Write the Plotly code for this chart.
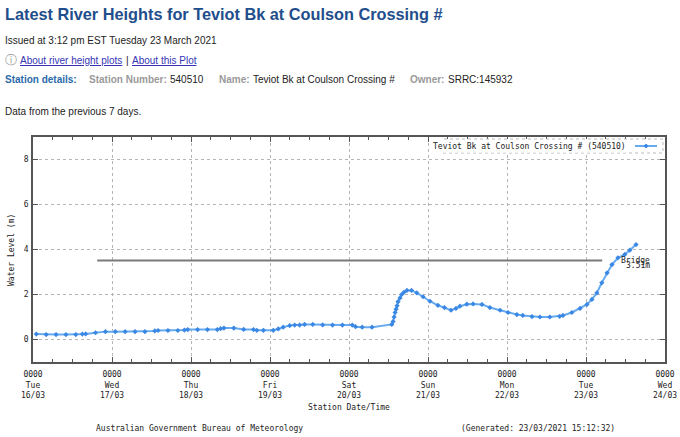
import plotly.graph_objects as go

# river height readings (station local time)
times = [
    "2021-03-16 01:00", "2021-03-16 04:00", "2021-03-16 07:00", "2021-03-16 10:00",
    "2021-03-16 13:00", "2021-03-16 15:00", "2021-03-16 16:00", "2021-03-16 19:00",
    "2021-03-16 22:00", "2021-03-17 01:00", "2021-03-17 04:00", "2021-03-17 07:00",
    "2021-03-17 10:00", "2021-03-17 13:00", "2021-03-17 14:00", "2021-03-17 17:00",
    "2021-03-17 20:00", "2021-03-17 22:00", "2021-03-17 23:00", "2021-03-18 02:00",
    "2021-03-18 05:00", "2021-03-18 08:00", "2021-03-18 09:00", "2021-03-18 10:00",
    "2021-03-18 13:00", "2021-03-18 16:00", "2021-03-18 19:00", "2021-03-18 20:00",
    "2021-03-18 22:00", "2021-03-19 01:00", "2021-03-19 02:30", "2021-03-19 04:00",
    "2021-03-19 06:00", "2021-03-19 07:30", "2021-03-19 09:00", "2021-03-19 10:30",
    "2021-03-19 13:00", "2021-03-19 16:00", "2021-03-19 19:00", "2021-03-19 22:00",
    "2021-03-20 01:00", "2021-03-20 02:00", "2021-03-20 04:00", "2021-03-20 07:00",
    "2021-03-20 13:00", "2021-03-20 13:24", "2021-03-20 13:42", "2021-03-20 14:00",
    "2021-03-20 14:18", "2021-03-20 14:36", "2021-03-20 14:54", "2021-03-20 15:30",
    "2021-03-20 16:00", "2021-03-20 16:42", "2021-03-20 17:36", "2021-03-20 19:00",
    "2021-03-20 20:36", "2021-03-20 22:30", "2021-03-21 00:36", "2021-03-21 03:00",
    "2021-03-21 05:00", "2021-03-21 07:00", "2021-03-21 08:30", "2021-03-21 09:42",
    "2021-03-21 11:48", "2021-03-21 13:42", "2021-03-21 16:24", "2021-03-21 18:48",
    "2021-03-21 21:54", "2021-03-22 00:18", "2021-03-22 03:00", "2021-03-22 04:48",
    "2021-03-22 07:36", "2021-03-22 10:00", "2021-03-22 13:00", "2021-03-22 16:00",
    "2021-03-22 17:00", "2021-03-22 19:42", "2021-03-22 22:12", "2021-03-23 00:18",
    "2021-03-23 01:48", "2021-03-23 03:18", "2021-03-23 04:48", "2021-03-23 06:24",
    "2021-03-23 07:54", "2021-03-23 09:42", "2021-03-23 11:48", "2021-03-23 13:18",
    "2021-03-23 15:12",
]
levels = [
    0.24, 0.22, 0.22, 0.22, 0.22, 0.24, 0.25, 0.30, 0.35, 0.35, 0.35, 0.35,
    0.35, 0.38, 0.40, 0.40, 0.40, 0.42, 0.44, 0.44, 0.44, 0.44, 0.48, 0.51,
    0.51, 0.45, 0.44, 0.41, 0.41, 0.41, 0.47, 0.55, 0.62, 0.64, 0.64, 0.67,
    0.67, 0.65, 0.64, 0.64, 0.64, 0.57, 0.55, 0.55, 0.67, 0.80, 1.00, 1.20,
    1.35, 1.50, 1.68, 1.85, 2.00, 2.10, 2.18, 2.18, 2.07, 1.90, 1.70, 1.52,
    1.42, 1.30, 1.38, 1.48, 1.57, 1.58, 1.56, 1.42, 1.30, 1.20, 1.11, 1.07,
    1.02, 1.00, 1.00, 1.03, 1.07, 1.20, 1.38, 1.56, 1.78, 2.07, 2.52, 2.96,
    3.33, 3.63, 3.78, 3.97, 4.22,
]

# bridge level line
bridge_times = ["2021-03-16 19:30", "2021-03-23 04:55"]
bridge_level = [3.51, 3.51]

day_ticks = ["2021-03-%02d" % d for d in range(16, 25)]
day_names = ["Tue", "Wed", "Thu", "Fri", "Sat", "Sun", "Mon", "Tue", "Wed"]
day_dates = ["16/03", "17/03", "18/03", "19/03", "20/03", "21/03", "22/03", "23/03", "24/03"]
y_ticks = [0, 2, 4, 6, 8]

MONO = "DejaVu Sans Mono"
SANS = "Liberation Sans"

# plot area in pixels: x 33..665, y 137..362
def px_x(p):
    return (p - 33) / 632.0

def px_y(p):
    return (362 - p) / 225.0

fig = go.Figure()

fig.add_trace(go.Scatter(
    x=bridge_times, y=bridge_level, mode="lines",
    line=dict(color="#7a7a7a", width=2), showlegend=False, hoverinfo="skip"
))

fig.add_trace(go.Scatter(
    x=times, y=levels, mode="lines+markers",
    line=dict(color="#66aaf0", width=2),
    marker=dict(symbol="diamond", size=4, color="#3b88e4"),
    name="Teviot Bk at Coulson Crossing # (540510)", showlegend=False
))

ann = []

def txt(x, y, s, size=10, color="#222", font=SANS, anchor="left", bold=False, **kw):
    if bold:
        s = "<b>" + s + "</b>"
    ann.append(dict(x=px_x(x), y=px_y(y), xref="paper", yref="paper", text=s,
                    showarrow=False, xanchor=anchor, yanchor="middle",
                    font=dict(family=font, size=size, color=color), **kw))

# page header
txt(3, 14, "Latest River Heights for Teviot Bk at Coulson Crossing #", size=16.3, color="#1f4e8c", bold=True)
txt(3, 40, "Issued at 3:12 pm EST Tuesday 23 March 2021", size=10)
txt(3, 60, "ⓘ", size=12, color="#999", font="DejaVu Sans")
txt(18, 60, "<u>About river height plots</u>", size=10, color="#3535b5")
txt(124, 60, "|", size=10)
txt(130, 60, "<u>About this Plot</u>", size=10, color="#3535b5")
txt(3, 80, "Station details:", size=10, color="#2a6aa8", bold=True)
txt(87, 80, "Station Number:", size=10, color="#9a9a9a", bold=True)
txt(168, 80, "540510", size=10)
txt(217, 80, "Name:", size=10, color="#9a9a9a", bold=True)
txt(251, 80, "Teviot Bk at Coulson Crossing #", size=10)
txt(408, 80, "Owner:", size=10, color="#9a9a9a", bold=True)
txt(446, 80, "SRRC:145932", size=10)
txt(3, 112, "Data from the previous 7 days.", size=10)

# chart texts
txt(11, 250, "Water Level (m)", size=8, color="#222", font=MONO, anchor="center", textangle=-90)
txt(349, 407, "Station Date/Time", size=8, color="#222", font=MONO, anchor="center")
txt(94, 428, "Australian Government Bureau of Meteorology", size=8, color="#222", font=MONO)
txt(459, 428, "(Generated: 23/03/2021 15:12:32)", size=8, color="#222", font=MONO)
txt(628, 146, "Teviot Bk at Coulson Crossing # (540510)", size=8, color="#222", font=MONO, anchor="right",
    bgcolor="white")

# bridge label
ann.append(dict(x="2021-03-23 20:00", y=3.53, xref="x", yref="y", text="Bridge", showarrow=False,
                xanchor="right", yanchor="middle", font=dict(family=MONO, size=8, color="#222")))
ann.append(dict(x="2021-03-23 20:00", y=3.29, xref="x", yref="y", text="3.51m", showarrow=False,
                xanchor="right", yanchor="middle", font=dict(family=MONO, size=8, color="#222")))

shapes = [
    # legend box and sample
    dict(type="rect", xref="paper", yref="paper", x0=px_x(443), x1=px_x(663), y0=px_y(153), y1=px_y(139),
         line=dict(color="#bbb", width=1, dash="dot"), fillcolor="white", layer="above"),
    dict(type="line", xref="paper", yref="paper", x0=px_x(635), x1=px_x(657), y0=px_y(146), y1=px_y(146),
         line=dict(color="#66aaf0", width=2), layer="above"),
    dict(type="circle", xref="paper", yref="paper", x0=px_x(644.5), x1=px_x(647.5), y0=px_y(147.5), y1=px_y(144.5),
         line=dict(color="#3b88e4", width=1), fillcolor="#3b88e4", layer="above"),
]

fig.update_layout(
    width=680, height=437,
    margin=dict(l=33, r=15, t=137, b=75),
    paper_bgcolor="white", plot_bgcolor="white",
    annotations=ann, shapes=shapes, showlegend=False,
)

fig.update_xaxes(
    type="date", range=["2021-03-16", "2021-03-24"], automargin=False,
    tickvals=day_ticks,
    ticktext=["0000<br>%s<br>%s" % (n, d) for n, d in zip(day_names, day_dates)],
    tickfont=dict(family=MONO, size=8, color="#222"),
    ticks="inside", ticklen=5, tickcolor="#555", ticklabelstandoff=4,
    minor=dict(dtick=6 * 3600 * 1000, ticks="inside", ticklen=3, tickcolor="#555", showgrid=False),
    showgrid=True, gridcolor="#b5b5b5", griddash="dot", gridwidth=1,
    showline=True, linecolor="#555", linewidth=1.5, mirror="ticks", zeroline=False,
)
fig.update_yaxes(
    range=[-1, 9], tickvals=y_ticks, automargin=False,
    tickfont=dict(family=MONO, size=8, color="#222"),
    ticks="inside", ticklen=5, tickcolor="#555", ticklabelstandoff=1,
    showgrid=True, gridcolor="#b5b5b5", griddash="dot", gridwidth=1,
    showline=True, linecolor="#555", linewidth=1.5, mirror="ticks", zeroline=False,
)

# page body has a default margin; drop it so the figure sits at the window corner
fig.write_html("out.html", config={"displayModeBar": False},
               post_script="document.body.style.margin='0';")
